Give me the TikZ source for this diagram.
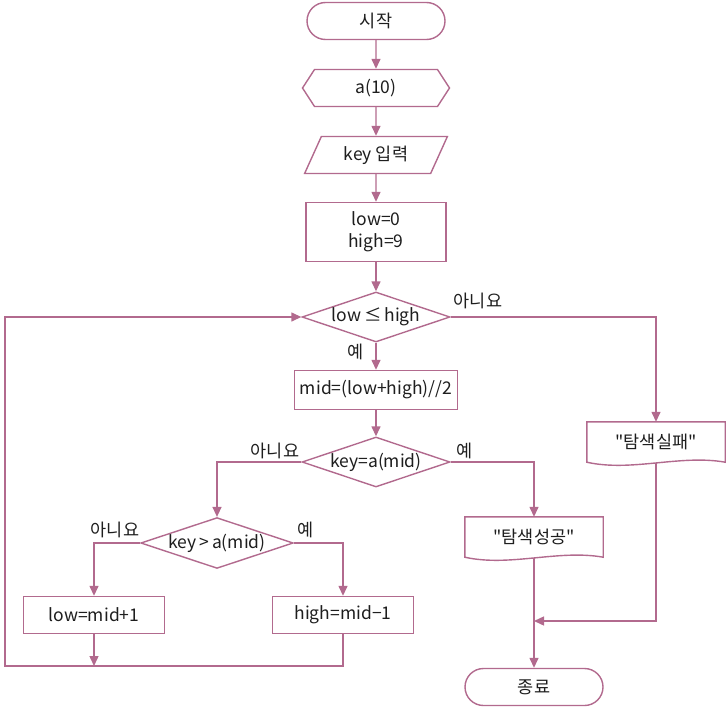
\documentclass[tikz,border=0pt]{standalone}
\usepackage{fontspec}
\setmainfont{Noto Sans CJK KR}
\usetikzlibrary{arrows.meta,shapes.geometric,shapes.symbols,backgrounds}
\definecolor{edge}{RGB}{178,106,142}
\definecolor{ink}{RGB}{30,30,30}
\tikzset{
  shp/.style={draw=edge, line width=1.4pt, fill=white, text=ink, align=center, inner sep=0pt},
  term/.style={shp, rectangle, rounded corners=18.5pt, minimum width=138pt, minimum height=37pt},
  prep/.style={shp, signal, signal to=west and east, signal pointer angle=114,
               minimum width=147pt, minimum height=37pt},
  inbox/.style={shp, trapezium, trapezium left angle=62, trapezium right angle=118,
                trapezium stretches=true, minimum width=144pt, minimum height=37pt},
  proc/.style={shp, rectangle, minimum height=37pt},
  dec/.style={shp, diamond, aspect=3, minimum width=148pt, minimum height=50pt},
  docbox/.style={rectangle, text=ink, minimum width=138pt, minimum height=40pt, inner sep=0pt},
  ar/.style={draw=edge, line width=1.4pt, -{Triangle[length=10pt,width=9pt]}},
  ln/.style={draw=edge, line width=1.4pt},
  lbl/.style={text=ink, inner sep=0pt},
}
\newcommand{\docoutline}[1]{%
  \draw[shp] (#1.north west) -- (#1.north east) -- (#1.south east)
    .. controls +(-45,-8) and +(45,10) .. (#1.south west) -- cycle;}

\begin{document}
\begin{tikzpicture}[x=1pt,y=-1pt,every node/.style={font=\fontsize{17.5pt}{22pt}\selectfont}]
\useasboundingbox (0,0) rectangle (726,707);

\node[term] (start) at (376,21) {시작};
\node[prep] (arr) at (376,88) {a(10)};
\node[inbox] (inp) at (376,155) {key 입력};
\node[proc, minimum width=140pt, minimum height=59pt] (init) at (376,232) {low=0\\high=9};
\node[dec] (cond) at (376,317) {low\,≤\,high};
\node[proc, minimum width=163pt, minimum height=39pt] (mid) at (376,390) {mid=(low+high)//2};
\node[dec] (cmp) at (376,462) {key=a(mid)};
\node[dec] (cmp2) at (217,543) {key\,>\,a(mid)};
\node[proc, minimum width=141pt] (lowup) at (94,615) {low=mid+1};
\node[proc, minimum width=141pt] (highdn) at (343,615) {high=mid−1};
\node[docbox] (ok) at (534,537) {};
\node[docbox] (fail) at (656,442) {};
\node[term] (stop) at (534,687) {종료};

% document shapes
\docoutline{ok}
\docoutline{fail}
\node[lbl] (oktxt) at (ok) {\textquotedbl 탐색성공\textquotedbl};
\node[lbl] (failtxt) at (fail) {\textquotedbl 탐색실패\textquotedbl};

% branch labels
\node[lbl] (noA) at (478,301) {아니요};
\node[lbl] (yesA) at (356,352) {예};
\node[lbl] (noB) at (275,451) {아니요};
\node[lbl] (yesB) at (465,451) {예};
\node[lbl] (noC) at (115,530) {아니요};
\node[lbl] (yesC) at (306,530) {예};

\coordinate (jn) at (94,666);
\coordinate (lp) at (5,666);
\coordinate (jf) at (534,621);

\begin{scope}[on background layer]
\draw[ar] (start) -- (arr);
\draw[ar] (arr) -- (inp);
\draw[ar] (inp) -- (init);
\draw[ar] (init) -- (cond);
\draw[ar] (cond) -- (mid);
\draw[ar] (mid) -- (cmp);
\draw[ar] (cond.east) -| (fail.north);
\draw[ar] (cmp.west) -| (cmp2.north);
\draw[ar] (cmp.east) -| (ok.north);
\draw[ar] (cmp2.west) -| (lowup.north);
\draw[ar] (cmp2.east) -| (highdn.north);
\draw[ar] (lowup) -- (jn);
\draw[ar] (highdn.south) |- (lp) |- (cond.west);
\draw[ar] (ok) -- (stop);
\draw[ar] (fail.south) |- (jf);
\end{scope}
\end{tikzpicture}
\end{document}
